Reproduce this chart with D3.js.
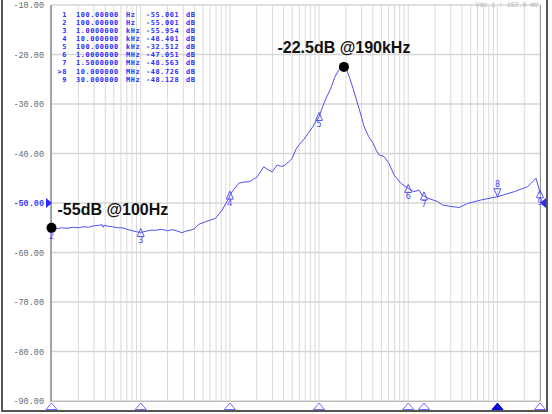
<!DOCTYPE html>
<html>
<head>
<meta charset="utf-8">
<script src="https://cdn.jsdelivr.net/npm/d3@7"></script>
<style>
  body { margin: 0; background: #fff; }
  svg { display: block; }
</style>
</head>
<body>
<svg id="chart" width="552" height="414"></svg>
<script>
// trace (Hz, dB)
const freqs = [100, 115, 130, 150, 175, 200, 230, 260, 300, 340, 370, 380, 390, 430, 480, 550, 620, 700, 800, 900,
  1000, 1150, 1300, 1500, 1700, 2000, 2300, 2600, 2900, 3200, 3600, 4000, 4500, 5300, 6900, 8200, 9700,
  10000, 11000, 12600, 14000, 16300, 18000, 20200, 22000, 24000, 27000, 29800, 33900, 37000, 40200,
  45000, 50000, 54500, 60000, 67000, 75000, 85000, 100000, 110000, 120000, 135000, 150000, 165000, 180000, 190000,
  205000, 220000, 240000, 265000, 290000, 320000, 360000, 400000, 440000, 470000, 535000, 608000, 692000,
  824000, 1000000, 1160000, 1320000, 1440000, 1500000, 1640000, 2130000, 2420000, 3000000, 3730000,
  4620000, 6500000, 10000000, 15500000, 21800000, 27100000, 29500000, 30000000];
const levels = [-55.0, -55.2, -55.0, -55.1, -54.9, -55.0, -54.8, -54.9, -54.6, -54.5, -54.4, -54.9, -54.5, -54.7, -54.8, -55.0, -55.0, -55.3, -55.6, -55.8,
  -55.95, -55.7, -55.5, -55.5, -55.3, -55.6, -55.4, -55.7, -56.0, -55.7, -55.5, -55.2, -54.3, -53.8, -53.1, -51.4, -49.1,
  -48.4, -47.3, -46.0, -45.8, -45.7, -45.3, -44.7, -43.7, -42.7, -43.3, -43.7, -42.3, -42.6, -42.5,
  -41.8, -41.0, -39.3, -38.2, -37.2, -36.0, -34.6, -32.5, -30.5, -28.8, -26.9, -24.6, -23.2, -22.6, -22.5,
  -23.2, -24.7, -26.8, -29.4, -31.8, -34.6, -36.6, -37.8, -39.4, -40.3, -40.6, -42.0, -44.3,
  -46.0, -47.05, -47.7, -47.4, -48.5, -48.56, -49.0, -49.7, -50.4, -50.7, -50.9,
  -50.1, -49.4, -48.73, -47.7, -46.7, -45.0, -47.4, -48.13];

// marker table
const markerIds = ["1", "2", "3", "4", "5", "6", "7", ">8", "9"];
const markerFreqText = ["100.00000", "100.00000", "1.0000000", "10.000000", "100.00000", "1.0000000", "1.5000000", "10.000000", "30.000000"];
const markerUnits = ["Hz", "Hz", "kHz", "kHz", "kHz", "MHz", "MHz", "MHz", "MHz"];
const markerFreq = [100, 100, 1e3, 1e4, 1e5, 1e6, 1.5e6, 1e7, 3e7];
const markerDb = [-55.001, -55.001, -55.954, -48.401, -32.512, -47.051, -48.563, -48.726, -48.128];

// callouts
const notes = [
  {f: 100, db: -55, text: "-55dB @100Hz"},
  {f: 190000, db: -22.5, text: "-22.5dB @190kHz"}
];

const yTicks = [-10, -20, -30, -40, -50, -60, -70, -80, -90];

const svg = d3.select("#chart");
const x = d3.scaleLog().domain([100, 3e7]).range([51.5, 540]);
const y = d3.scaleLinear().domain([-90, -10]).range([401, 5]);

// outer frame
svg.append("rect").attr("x", 2).attr("y", -4).attr("width", 545).attr("height", 415)
  .attr("fill", "none").attr("stroke", "#555").attr("stroke-width", 2);

// grid
const grid = svg.append("g");
grid.selectAll("line.v").data(x.ticks()).join("line").attr("class", "v")
  .attr("x1", d => x(d)).attr("x2", d => x(d)).attr("y1", 5).attr("y2", 401)
  .attr("stroke", "#dadada").attr("stroke-width", 1);
grid.selectAll("line.h").data(yTicks).join("line").attr("class", "h")
  .attr("x1", 51.5).attr("x2", 540).attr("y1", d => y(d)).attr("y2", d => y(d))
  .attr("stroke", "#d6d6d6").attr("stroke-width", 1.5);

// plot borders
svg.append("line").attr("x1", 51).attr("x2", 51).attr("y1", 5).attr("y2", 402).attr("stroke", "#8a8a8a").attr("stroke-width", 1.5);
svg.append("line").attr("x1", 540.5).attr("x2", 540.5).attr("y1", 5).attr("y2", 402).attr("stroke", "#9a9a9a");
svg.append("line").attr("x1", 51).attr("x2", 541).attr("y1", 401.5).attr("y2", 401.5).attr("stroke", "#bbb");

// y labels
svg.selectAll("text.yl").data(yTicks).join("text").attr("class", "yl")
  .attr("x", 44).attr("y", d => y(d) + 3)
  .attr("text-anchor", "end")
  .attr("font-family", "'Liberation Mono', 'DejaVu Sans Mono', monospace")
  .attr("font-size", 8.5)
  .attr("fill", d => d === -50 ? "#3b3bff" : "#6a6a6a")
  .attr("font-weight", d => d === -50 ? "bold" : "normal")
  .text(d => d.toFixed(2));

// reference level arrows
const refY = y(-50);
svg.append("path").attr("d", `M46,${refY - 5}L52,${refY}L46,${refY + 5}Z`).attr("fill", "#2a2aff");
svg.append("path").attr("d", `M546,${refY - 5}L540,${refY}L546,${refY + 5}Z`).attr("fill", "#2a2aff");

// faint header text
svg.append("text").attr("x", 538).attr("y", 7).attr("text-anchor", "end")
  .attr("font-family", "'Liberation Mono', monospace").attr("font-size", 6.5)
  .attr("fill", "#b5b5b5").text("Vdc 1 :  102.0 mV");

// trace
const pts = freqs.map((f, i) => [f, levels[i]]);
svg.append("path").datum(pts)
  .attr("d", d3.line().x(d => x(d[0])).y(d => y(d[1])))
  .attr("fill", "none").attr("stroke", "#5050f0").attr("stroke-width", 1);

// markers on trace
const mk = svg.append("g").attr("fill", "none").attr("stroke", "#4a4aee").attr("stroke-width", 0.9);
markerFreq.forEach((f, i) => {
  if (i === 0) return; // marker 1 sits under marker 2
  const mx = x(f), my = y(markerDb[i]);
  const label = markerIds[i].replace(">", "");
  if (markerIds[i].startsWith(">")) {
    mk.append("path").attr("d", `M${mx},${my}L${mx - 3.5},${my - 8}L${mx + 3.5},${my - 8}Z`);
    svg.append("text").attr("x", mx).attr("y", my - 10).attr("text-anchor", "middle")
      .attr("font-family", "'DejaVu Sans', sans-serif").attr("font-size", 8).attr("fill", "#4a4aee").text(label);
  } else {
    mk.append("path").attr("d", `M${mx},${my - 4}L${mx - 3.5},${my + 4}L${mx + 3.5},${my + 4}Z`);
    svg.append("text").attr("x", mx).attr("y", my + 11).attr("text-anchor", "middle")
      .attr("font-family", "'DejaVu Sans', sans-serif").attr("font-size", 8).attr("fill", "#4a4aee").text(label);
  }
});

// bottom marker strip
markerFreq.forEach((f, i) => {
  if (i === 0) return;
  const mx = x(f);
  const active = markerIds[i].startsWith(">");
  svg.append("path").attr("d", `M${mx},403L${mx - 5.5},409.5L${mx + 5.5},409.5Z`)
    .attr("fill", active ? "#0a0ae0" : "#fff")
    .attr("stroke", active ? "#0a0ae0" : "#6b6bff").attr("stroke-width", 1);
});

// marker table, one text per row
const tbl = svg.append("g").attr("font-family", "'DejaVu Sans Mono', 'Liberation Mono', monospace")
  .attr("font-size", 6.9).attr("font-weight", "bold").attr("letter-spacing", 0.6).attr("fill", "#2b2bff");
markerIds.forEach((id, i) => {
  const t = tbl.append("text").attr("y", 16.5 + i * 8.15);
  t.append("tspan").attr("x", 67).attr("text-anchor", "end").text(id);
  t.append("tspan").attr("x", 76).attr("text-anchor", "start").text(markerFreqText[i]);
  t.append("tspan").attr("x", 126).text(markerUnits[i]);
  t.append("tspan").attr("x", 146).text(markerDb[i].toFixed(3));
  t.append("tspan").attr("x", 186).text("dB");
});

// callouts
notes.forEach((n, i) => {
  const cx = x(n.f), cy = y(n.db);
  svg.append("circle").attr("cx", cx).attr("cy", cy).attr("r", 5).attr("fill", "#000");
  svg.append("text")
    .attr("x", i === 0 ? cx + 6 : cx)
    .attr("y", i === 0 ? cy - 13 : cy - 14)
    .attr("text-anchor", i === 0 ? "start" : "middle")
    .attr("font-family", "Arial, 'Liberation Sans', sans-serif")
    .attr("font-weight", "bold").attr("font-size", 16).attr("fill", "#111")
    .text(n.text);
});
</script>
</body>
</html>
